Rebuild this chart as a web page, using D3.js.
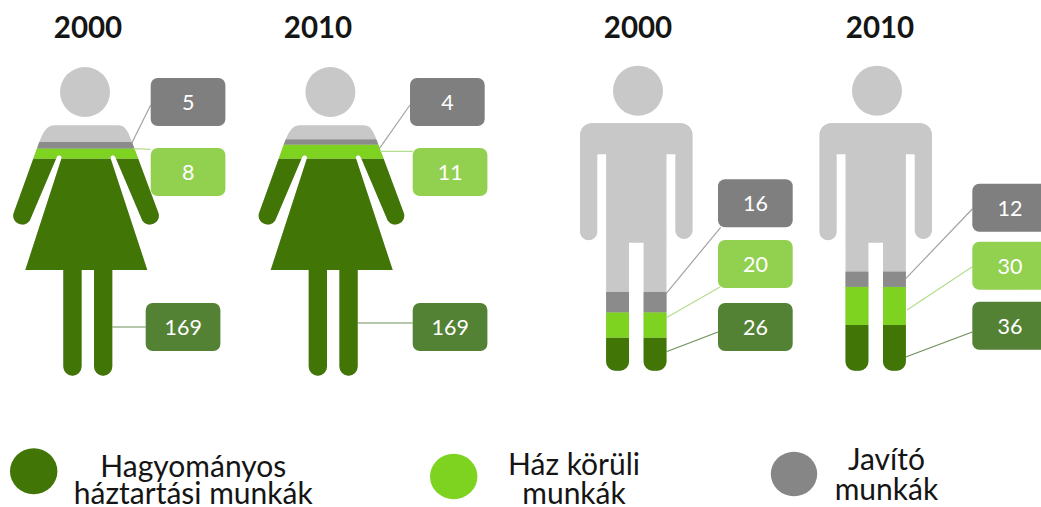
<!DOCTYPE html>
<html><head><meta charset="utf-8">
<script src="https://cdn.jsdelivr.net/npm/d3@7/dist/d3.min.js"></script>
<style>html,body{margin:0;background:#fff}svg{display:block}text{font-family:Lato,sans-serif}</style>
</head><body><svg id="c" width="1041" height="507"></svg>
<script>
// ---- data ----
const panels = ["w2000","w2010","m2000","m2010"];
const yearLabels = ["2000","2010","2000","2010"];
const traditional = [169,169,26,36];
const yardWork = [8,11,20,30];
const repairs = [5,4,16,12];
const seriesKeys = ["traditional","yardWork","repairs"];
const legendLines = [["Hagyományos","háztartási munkák"],["Ház körüli","munkák"],["Javító","munkák"]];

// ---- layout & style ----
const colors = {traditional:"#417505",yardWork:"#7ed321",repairs:"#8b8b8b"};
const boxColors = {traditional:"#548235",yardWork:"#92d050",repairs:"#7f7f7f"};
const lineColors = {traditional:"#6f8f5a",yardWork:"#b5dc8f",repairs:"#a3a3a3"};
const legendColors = ["#417505","#7ed321","#868686"];
const layout = {
 w2000:{kind:"w",cx:86.3,head:85,titleX:88,
  boxes:{repairs:[150.7,78],yardWork:[150.7,148],traditional:[145.7,303]},
  lines:{repairs:[150.7,105,131.7,143.3],yardWork:[150.7,149.3,133.3,148.7],traditional:[145.7,327,112.3,327]}},
 w2010:{kind:"w",cx:331.7,head:330.4,titleX:318,
  boxes:{repairs:[410,78],yardWork:[412.7,148],traditional:[412.7,303]},
  lines:{repairs:[410,105,379.3,148.7],yardWork:[412.7,151.3,380,151.3],traditional:[412.7,323,357.7,323]}},
 m2000:{kind:"m",cx:636.3,head:638,titleX:638,
  boxes:{repairs:[718,179.3],yardWork:[718,240],traditional:[718,303]},
  lines:{repairs:[720.7,227.3,666.3,293.3],yardWork:[720,287,666.3,317.7],traditional:[718,332,666.3,351.7]}},
 m2010:{kind:"m",cx:875.7,head:877,titleX:880,
  boxes:{repairs:[972.3,183.7],yardWork:[972.3,241.7],traditional:[972.3,301.7]},
  lines:{repairs:[972.3,209,905.7,278.7],yardWork:[972.3,266.7,907,310],traditional:[972.3,332,905.7,357]}}
};
const shapes = {
 w:"M-31.7,125.3H31.7C38,125.3 41,129 45.7,142L72.3,213.5A9,9 0 0 1 56,220.5L29,157A2.6,2.6 0 0 0 24,157.5L61,270H26V366.5A9.15,9.15 0 0 1 7.7,366.5V270H-4.7V366.5A9.15,9.15 0 0 1 -23,366.5V270H-61L-24.5,157.5A2.6,2.6 0 0 0 -29.5,157L-56.5,220.5A9,9 0 0 1 -72.8,213.5L-47,142C-42,129 -38,125.3 -31.7,125.3Z",
 m:"M-44.3,123H44.3A12,12 0 0 1 56.3,135V231.3A8.7,8.7 0 0 1 39,231.3V154.3H30.2V361.7A9,9 0 0 1 21.2,370.7H16.3A9,9 0 0 1 7.3,361.7V242.7H-7.3V361.7A9,9 0 0 1 -16.3,370.7H-21.2A9,9 0 0 1 -30.2,361.7V154.3H-39V232.5A8.7,8.7 0 0 1 -56.3,232.5V135A12,12 0 0 1 -44.3,123Z"
};
const yScales = {
 w:d3.scaleLinear().domain([0,200]).range([375.7,375.7-200*1.284]),
 m:d3.scaleLinear().domain([0,200]).range([370.7,370.7-200*1.27])
};
const svg = d3.select("#c");
const defs = svg.append("defs");
const table = panels.map((p,i)=>({panel:p,traditional:traditional[i],yardWork:yardWork[i],repairs:repairs[i]}));
const stacked = d3.stack().keys(seriesKeys)(table);

table.forEach((row,i)=>{
  const L = layout[row.panel], y = yScales[L.kind];
  const g = svg.append("g");
  g.append("text").attr("x",L.titleX).attr("y",38.3).attr("text-anchor","middle")
    .attr("font-size",29.5).attr("font-weight",700).attr("fill","#151515").text(yearLabels[i]);
  g.append("circle").attr("cx",L.head).attr("cy",L.kind=="w"?92:90.7).attr("r",25).attr("fill","#c8c8c8");
  const id = "clip-"+row.panel;
  defs.append("clipPath").attr("id",id).append("path").attr("d",shapes[L.kind])
     .attr("transform",`translate(${L.cx},0)`);
  const body = g.append("g").attr("clip-path",`url(#${id})`);
  body.append("rect").attr("x",L.cx-90).attr("width",180).attr("y",100).attr("height",290).attr("fill","#c8c8c8");
  stacked.forEach(s=>{
    const d = s[i];
    body.append("rect").attr("x",L.cx-90).attr("width",180)
      .attr("y",y(d[1])).attr("height",y(d[0])-y(d[1])+(s.key=="traditional"?20:0))
      .attr("fill",colors[s.key]);
  });
  seriesKeys.forEach(k=>{
    const q = L.lines[k], b = L.boxes[k];
    g.append("line").attr("x1",q[0]).attr("y1",q[1]).attr("x2",q[2]).attr("y2",q[3])
      .attr("stroke",lineColors[k]).attr("stroke-width",1.2);
    g.append("rect").attr("x",b[0]).attr("y",b[1]).attr("width",74.7).attr("height",48).attr("rx",7)
      .attr("fill",boxColors[k]);
    g.append("text").attr("x",b[0]+37.6).attr("y",b[1]+32).attr("text-anchor","middle")
      .attr("font-size",21.5).attr("fill","#fff").text(row[k]);
  });
});

const legendPos = [
 {cx:33.7,cy:471.3,rx:23.7,ry:23,tx:193.3,ys:[476.7,504]},
 {cx:453.7,cy:476.5,rx:23.7,ry:22.7,tx:574,ys:[475,504]},
 {cx:794,cy:474,rx:23.2,ry:22.3,tx:886.4,ys:[470,500]}
];
legendLines.forEach((lines,i)=>{
  const p = legendPos[i];
  svg.append("ellipse").attr("cx",p.cx).attr("cy",p.cy).attr("rx",p.rx).attr("ry",p.ry).attr("fill",legendColors[i]);
  lines.forEach((t,j)=>svg.append("text").attr("x",p.tx).attr("y",p.ys[j]).attr("text-anchor","middle")
    .attr("font-size",30).attr("fill","#151515").text(t));
});
</script></body></html>
